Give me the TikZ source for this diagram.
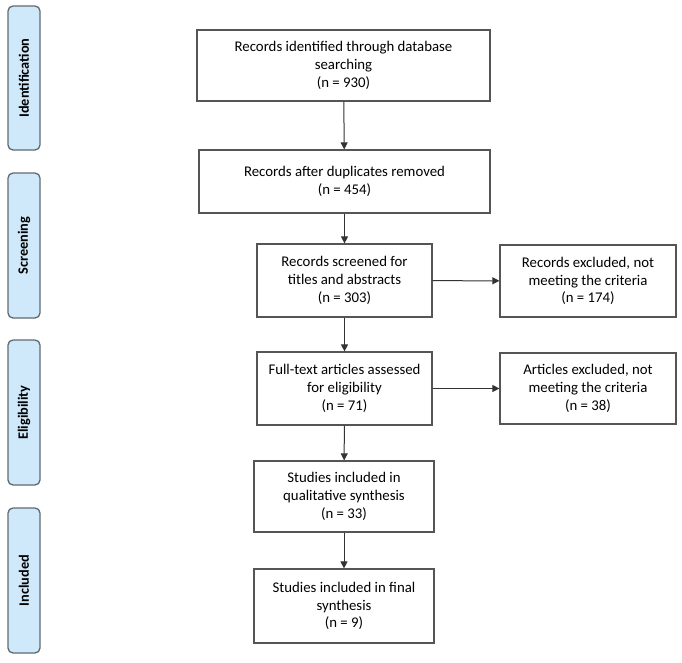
\documentclass[tikz,border=0pt]{standalone}
\usepackage{fontspec}
\setmainfont{Carlito}
\usetikzlibrary{arrows.meta}
\definecolor{phasefill}{HTML}{CFE8FA}
\definecolor{phasedraw}{HTML}{5F6B73}
\definecolor{boxdraw}{HTML}{555555}
\tikzset{
  phase/.style={draw=phasedraw, fill=phasefill, line width=1.3pt, rounded corners=5pt},
  phaselabel/.style={rotate=90, font=\fontsize{14.3}{16}\selectfont\bfseries},
  flowbox/.style={draw=boxdraw, line width=1.2pt, align=center, font=\fontsize{14.8}{17.8}\selectfont},
  arr/.style={draw=black!80, line width=1pt, -{Triangle[length=7pt,width=7pt]}}
}
\begin{document}
\begin{tikzpicture}[x=1pt,y=-1pt]
\useasboundingbox (0,0) rectangle (682,662);
% phases
\draw[phase] (8,6) rectangle (40,150);
\node[phaselabel] (pid) at (24,78) {Identification};
\draw[phase] (8,173) rectangle (40,318);
\node[phaselabel] (psc) at (24,245.5) {Screening};
\draw[phase] (8,340) rectangle (40,485);
\node[phaselabel] (pel) at (24,412.5) {Eligibility};
\draw[phase] (8,508) rectangle (40,653);
\node[phaselabel] (pin) at (24,580.5) {Included};
% boxes
\node[flowbox, minimum width=293pt, minimum height=71pt] (b1) at (343.5,65.5) {Records identified through database\\searching\\(n = 930)};
\node[flowbox, minimum width=291pt, minimum height=63pt] (b2) at (344.5,181.5) {Records after duplicates removed\\(n = 454)};
\node[flowbox, minimum width=175pt, minimum height=73pt] (b3) at (344.5,280.5) {Records screened for\\titles and abstracts\\(n = 303)};
\node[flowbox, minimum width=176pt, minimum height=72pt] (b4) at (588,281) {Records excluded, not\\meeting the criteria\\(n = 174)};
\node[flowbox, minimum width=175pt, minimum height=73pt] (b5) at (344.5,388.5) {Full-text articles assessed\\for eligibility\\(n = 71)};
\node[flowbox, minimum width=176pt, minimum height=71pt] (b6) at (588,388.5) {Articles excluded, not\\meeting the criteria\\(n = 38)};
\node[flowbox, minimum width=180pt, minimum height=71pt] (b7) at (344,496.5) {Studies included in\\qualitative synthesis\\(n = 33)};
\node[flowbox, minimum width=180pt, minimum height=74pt] (b8) at (344,606) {Studies included in final\\synthesis\\(n = 9)};
% arrows
\draw[arr] (b1) -- (b2);
\draw[arr] (b2) -- (b3);
\draw[arr] (b3) -- (b4);
\draw[arr] (b3) -- (b5);
\draw[arr] (b5) -- (b6);
\draw[arr] (b5) -- (b7);
\draw[arr] (b7) -- (b8);
\end{tikzpicture}
\end{document}
